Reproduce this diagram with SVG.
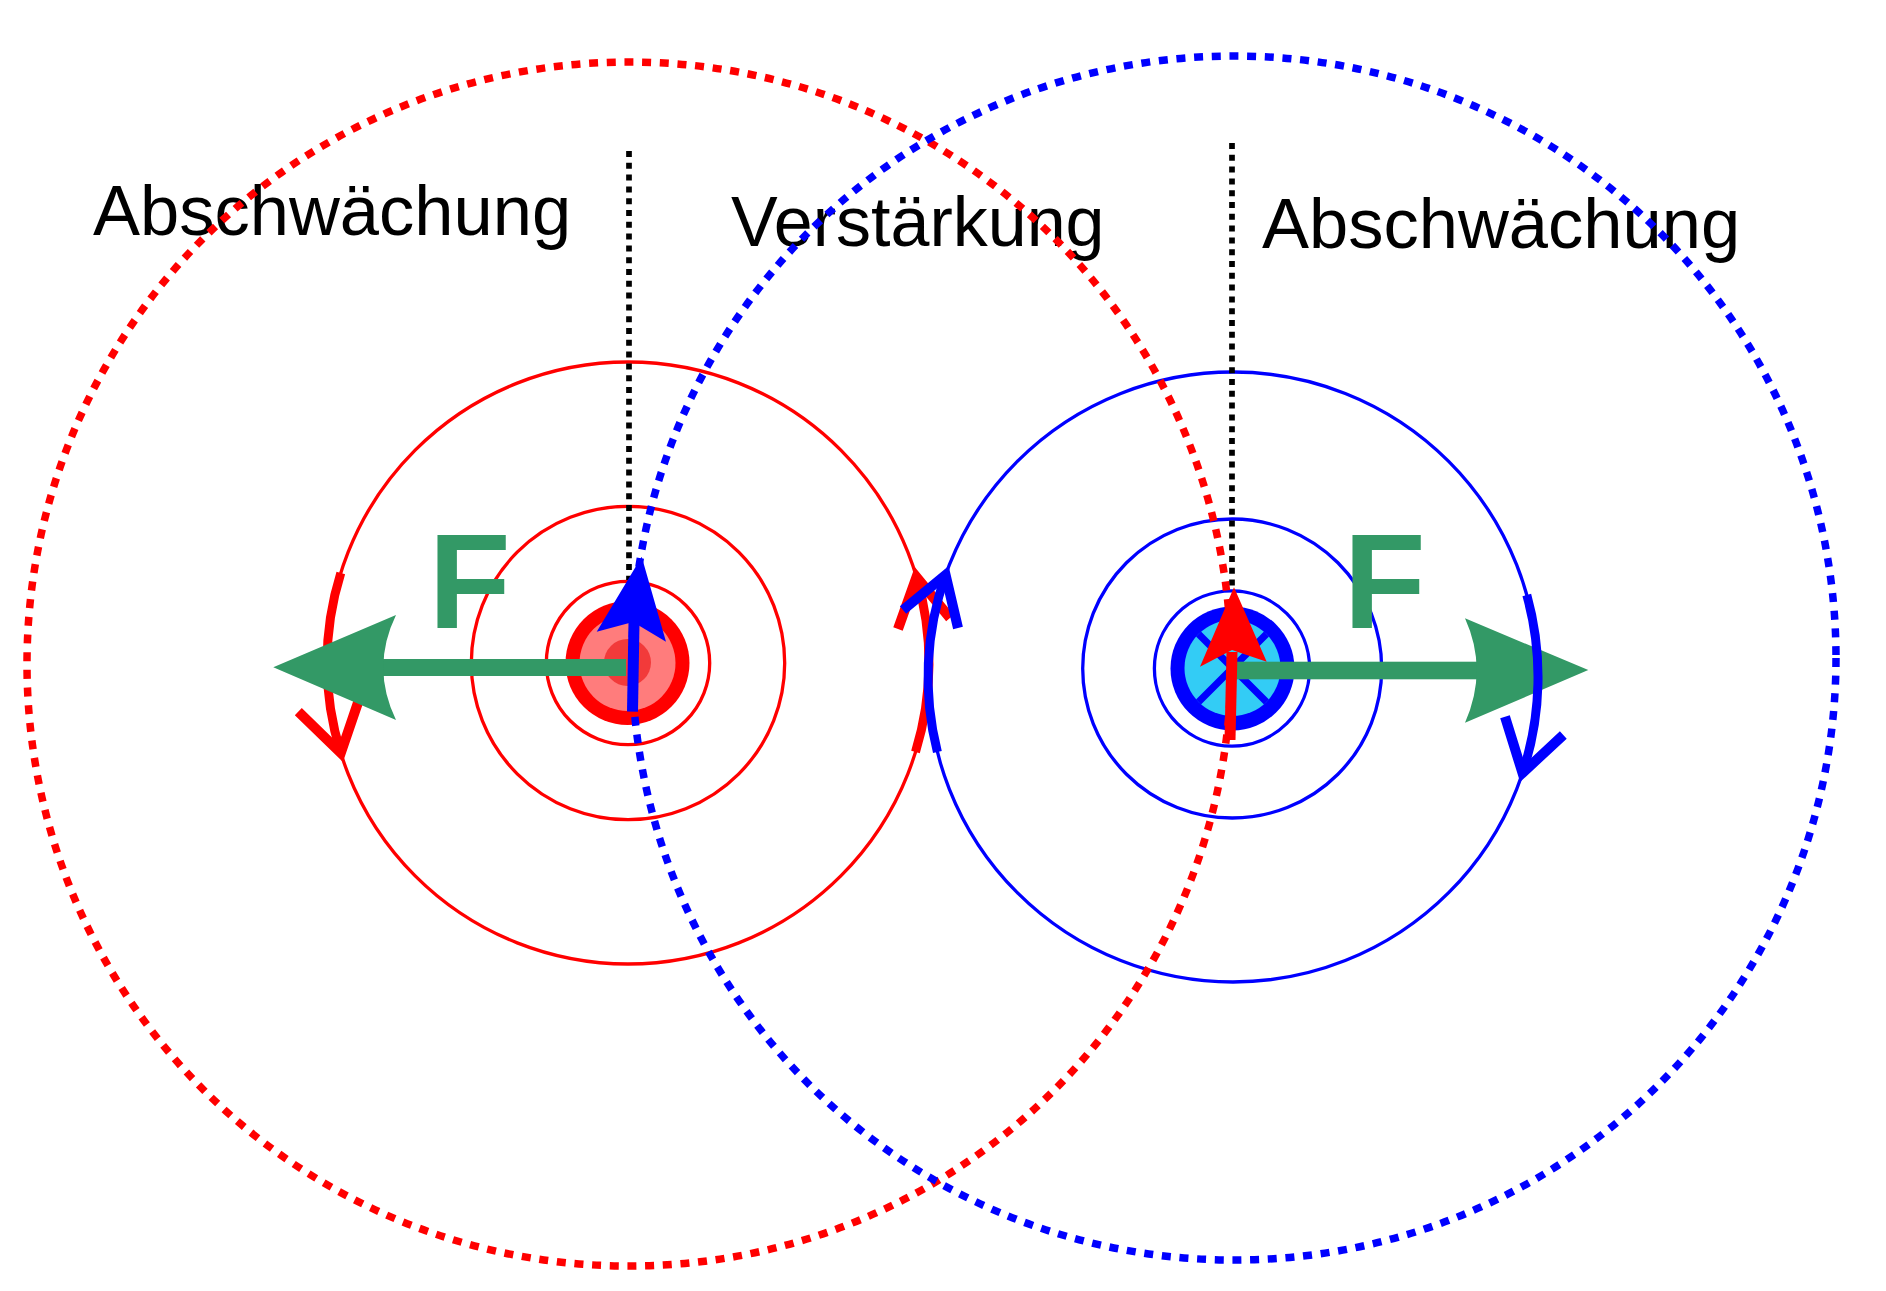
<svg xmlns="http://www.w3.org/2000/svg" width="1886" height="1291" viewBox="0 0 1886 1291">
<style>
.lbl{font-family:"Liberation Sans",Arial,sans-serif;font-size:70.5px;fill:#000}
.force{font-family:"Liberation Sans",Arial,sans-serif;font-size:134.5px;font-weight:bold;fill:#339966}
.ring{fill:none;stroke-width:3.3}
.red{stroke:#FF0000}
.blue{stroke:#0000FF}
.dotc{fill:none;stroke-width:7.5;stroke-dasharray:9 8.7}
.axis{fill:none;stroke:#000;stroke-width:5.7;stroke-dasharray:6 5.8}
.thick{fill:none;stroke-width:9}
.vee{fill:none;stroke-width:10;stroke-linejoin:miter;stroke-linecap:butt}
</style>
<rect width="1886" height="1291" fill="#fff"/>
<g id="labels">
<text class="lbl" x="93" y="235">Abschwächung</text>
<text class="lbl" x="731" y="246" style="font-size:70px">Verstärkung</text>
<text class="lbl" x="1262" y="248">Abschwächung</text>
</g>
<g id="left-field">
<circle class="ring red" cx="628" cy="663" r="81.7"/>
<circle class="ring red" cx="628" cy="663" r="156.7"/>
<circle class="ring red" cx="628" cy="663" r="301"/>
</g>
<g id="right-field">
<circle class="ring blue" cx="1232" cy="668.5" r="77.6"/>
<circle class="ring blue" cx="1232.2" cy="668.5" r="149.5"/>
<circle class="ring blue" cx="1233" cy="677" r="305"/>
</g>
<g id="left-conductor">
<circle cx="627.5" cy="663" r="62" fill="#FF0000"/>
<circle cx="627.5" cy="663" r="48" fill="#FF7C7C"/>
<circle cx="627.5" cy="662.5" r="23.5" fill="#F23A3A"/>
</g>
<g id="right-conductor">
<circle cx="1232.5" cy="668.5" r="62" fill="#0000FF"/>
<circle cx="1232.5" cy="668" r="48" fill="#33CCF5"/>
<path d="M1198.5 634 L1266.5 702 M1266.5 634 L1198.5 702" stroke="#0000FF" stroke-width="7" fill="none"/>
</g>
<g id="axes">
<line class="axis" x1="629" y1="151" x2="629" y2="580"/>
<line class="axis" x1="1232" y1="143" x2="1232" y2="587"/>
</g>
<g id="far-field">
<circle class="dotc red" cx="629" cy="664" r="602"/>
<circle class="dotc blue" cx="1234" cy="658" r="602"/>
</g>
<g id="connectors">
<g id="left-ring-arrows">
<path class="thick red" d="M340.8 573 A301 301 0 0 0 340.8 753"/>
<polyline class="vee red" points="298.3,711.7 340.8,753 358.3,701.7"/>
<path class="thick red" d="M915.5 752 A301 301 0 0 0 916.5 577"/>
<polyline class="vee red" points="898,629 916.5,577 950,618"/>
</g>
<g id="right-ring-arrow-left">
<path class="thick blue" d="M937.4 752 A305 305 0 0 1 945.6 575"/>
<polyline class="vee blue" points="903,610 945.6,575 958,628"/>
</g>
<g id="force-left">
<rect x="380" y="659" width="246" height="17" fill="#339966"/>
<path d="M273.3 667.3 L396 615 Q370.6 667.3 396 720 Z" fill="#339966"/>
</g>
<g id="force-right">
<rect x="1235" y="661.7" width="244" height="17.6" fill="#339966"/>
<path d="M1588.3 670 L1465 618.3 Q1488.4 670 1465 722.7 Z" fill="#339966"/>
</g>
<g id="right-ring-arrow-right">
<path class="thick blue" d="M1526.8 595 A305 305 0 0 1 1522.5 773"/>
<polyline class="vee blue" points="1505,716.7 1522.5,773 1563.3,735"/>
</g>
<g id="arrow-blue-on-left">
<line x1="632.5" y1="711.7" x2="634" y2="622" stroke="#0000FF" stroke-width="11"/>
<path d="M641.7 556.7 L666 641.7 L633 622 L596.7 631.7 Z" fill="#0000FF"/>
</g>
<g id="arrow-red-on-right">
<line x1="1230" y1="740" x2="1232" y2="652" stroke="#FF0000" stroke-width="11"/>
<path d="M1234 587.3 L1266.7 661.7 L1232 650 L1200 666.7 Z" fill="#FF0000"/>
</g>
</g>
<g id="force-labels">
<text class="force" x="428.5" y="628">F</text>
<text class="force" x="1343.5" y="628">F</text>
</g>
</svg>
